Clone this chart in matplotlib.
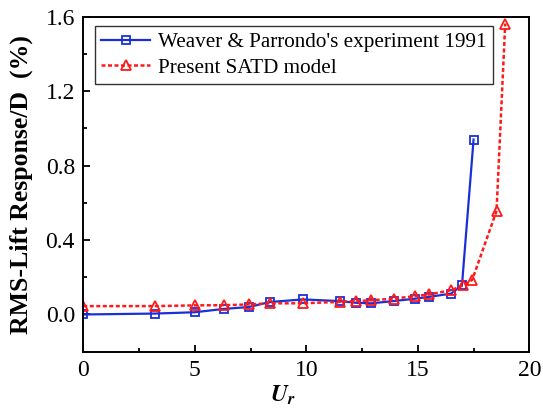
import numpy as np
import matplotlib
matplotlib.use("Agg")
import matplotlib.pyplot as plt
from matplotlib.ticker import MultipleLocator

plt.rcParams['font.family'] = ['Liberation Serif', 'DejaVu Serif']
plt.rcParams['mathtext.fontset'] = 'stix'

# Weaver & Parrondo's experiment 1991
ur_exp = [0.0, 3.22, 5.0, 6.31, 7.42, 8.37, 9.85, 11.49, 12.21, 12.91,
          13.91, 14.88, 15.52, 16.49, 16.98, 17.5]
rms_exp = [0.0, 0.005, 0.012, 0.03, 0.04, 0.067, 0.081, 0.072, 0.063, 0.06,
           0.072, 0.085, 0.095, 0.112, 0.157, 0.94]

# Present SATD model
ur_satd = [0.0, 3.22, 5.0, 6.31, 7.42, 8.37, 9.85, 11.49, 12.21, 12.91,
           13.91, 14.88, 15.52, 16.49, 17.04, 17.44, 18.53, 18.92]
rms_satd = [0.045, 0.045, 0.049, 0.05, 0.054, 0.06, 0.06, 0.068, 0.072, 0.076,
            0.085, 0.099, 0.108, 0.13, 0.157, 0.186, 0.556, 1.563]

fig = plt.figure(figsize=(5.43, 4.13), dpi=100)
ax = fig.add_axes([0.1534, 0.1484, 0.8214, 0.8112])

ax.plot(ur_exp, rms_exp, '-s', color='#1a2fd8', lw=1.6, ms=5.5,
        mfc='none', mec='#1a2fd8', mew=1.3,
        label="Weaver & Parrondo's experiment 1991")
ax.plot(ur_satd, rms_satd, marker='^', ls=(0, (1.6, 1.0)), color='#ff1a1a',
        lw=1.8, ms=7, mfc='none', mec='#ff1a1a', mew=1.3,
        label='Present SATD model')

ax.set_xlim(0, 20)
ax.set_ylim(-0.2, 1.6)
ax.xaxis.set_major_locator(MultipleLocator(5))
ax.xaxis.set_minor_locator(MultipleLocator(2.5))
ax.yaxis.set_major_locator(MultipleLocator(0.4))
ax.yaxis.set_minor_locator(MultipleLocator(0.2))
ax.tick_params(which='both', direction='in', labelsize=17, width=1.3, pad=6)
ax.tick_params(which='major', length=5)
ax.tick_params(which='minor', length=3)
for s in ax.spines.values():
    s.set_linewidth(1.4)

ax.set_xlabel(r'$\mathbfit{U}_\mathbfit{r}$', fontsize=17)
ax.xaxis.set_label_coords(0.448, -0.095)
ax.set_ylabel('RMS-Lift Response/D  (%)', fontsize=18.5, fontweight='bold')
ax.yaxis.set_label_coords(-0.113, 0.5)

leg = ax.legend(loc='upper left', fontsize=15.2, frameon=True, fancybox=False,
                edgecolor='black', handlelength=2.3, borderpad=0.3,
                labelspacing=0.28, handletextpad=0.4, borderaxespad=0,
                bbox_to_anchor=(0.026, 0.972))
leg.get_frame().set_linewidth(1.0)

fig.savefig('out.png', dpi=100)
